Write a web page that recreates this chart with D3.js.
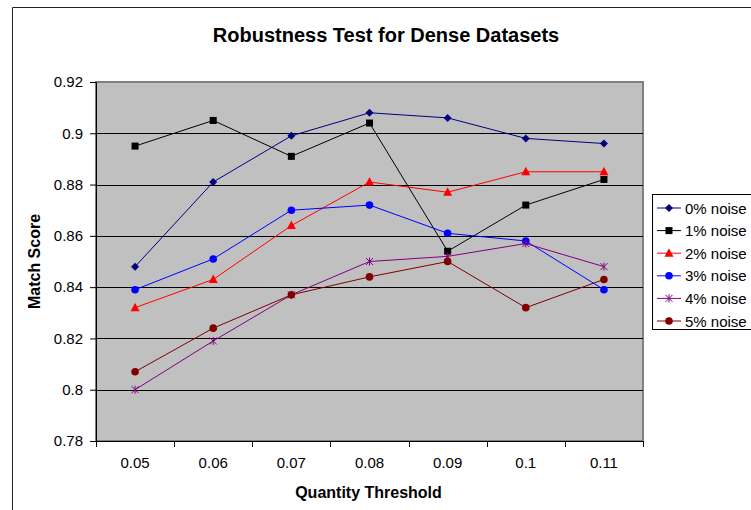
<!DOCTYPE html>
<html>
<head>
<meta charset="utf-8">
<script src="https://cdn.jsdelivr.net/npm/d3@7"></script>
<style>
  body { margin: 0; background: #fff; }
  text { font-family: "Liberation Sans", Arial, sans-serif; }
</style>
</head>
<body>
<div id="chart"></div>
<script>
// data
const thresholds = ["0.05", "0.06", "0.07", "0.08", "0.09", "0.1", "0.11"];
const seriesNames = ["0% noise", "1% noise", "2% noise", "3% noise", "4% noise", "5% noise"];
const noise0 = [0.848, 0.881, 0.899, 0.908, 0.906, 0.898, 0.896];
const noise1 = [0.895, 0.905, 0.891, 0.904, 0.854, 0.872, 0.882];
const noise2 = [0.832, 0.843, 0.864, 0.881, 0.877, 0.885, 0.885];
const noise3 = [0.839, 0.851, 0.870, 0.872, 0.861, 0.858, 0.839];
const noise4 = [0.800, 0.819, 0.837, 0.850, 0.852, 0.857, 0.848];
const noise5 = [0.807, 0.824, 0.837, 0.844, 0.850, 0.832, 0.843];
const yTicks = [0.78, 0.8, 0.82, 0.84, 0.86, 0.88, 0.9, 0.92];

const allSeries = [noise0, noise1, noise2, noise3, noise4, noise5];
const colors = ["#000080", "#000000", "#ff0000", "#0000ff", "#800080", "#800000"];
const shapes = ["diamond", "square", "triangle", "circle", "star", "circle"];

const width = 751, height = 510;
const plot = { left: 96, right: 643, top: 82, bottom: 441 };

const svg = d3.select("#chart").append("svg")
  .attr("width", width)
  .attr("height", height);

// outer chart border (only left/top visible in the crop)
svg.append("path")
  .attr("d", `M12.5,${height} L12.5,7.5 L${width},7.5`)
  .attr("fill", "none")
  .attr("stroke", "#222")
  .attr("stroke-width", 1);

const x = d3.scaleBand().domain(thresholds).range([plot.left, plot.right]);
const y = d3.scaleLinear().domain([0.78, 0.92]).range([plot.bottom, plot.top]);

// plot background
svg.append("rect")
  .attr("x", plot.left).attr("y", plot.top)
  .attr("width", plot.right - plot.left).attr("height", plot.bottom - plot.top)
  .attr("fill", "#c0c0c0")
  .attr("stroke", "#808080")
  .attr("stroke-width", 2);

// gridlines
svg.append("g")
  .selectAll("line")
  .data(yTicks.slice(1, -1))
  .enter()
  .append("line")
  .attr("x1", plot.left).attr("x2", plot.right)
  .attr("y1", d => Math.round(y(d)) + 0.5).attr("y2", d => Math.round(y(d)) + 0.5)
  .attr("stroke", "#000")
  .attr("stroke-width", 1);

// y axis
const yAxis = svg.append("g")
  .attr("transform", `translate(${plot.left},0)`)
  .call(d3.axisLeft(y).tickValues(yTicks).tickSize(6).tickPadding(7).tickFormat(d3.format("")));
yAxis.select(".domain").attr("stroke", "#000");
yAxis.selectAll("text").attr("font-size", 15).attr("fill", "#000")
  .attr("font-family", "'Liberation Sans', Arial, sans-serif");

// x axis: ticks sit at category boundaries
const xAxis = svg.append("g")
  .attr("transform", `translate(0,${plot.bottom})`)
  .call(d3.axisBottom(x).tickSize(0).tickPadding(16));
xAxis.select(".domain").attr("stroke", "#000");
xAxis.selectAll("text").attr("font-size", 15).attr("fill", "#000")
  .attr("font-family", "'Liberation Sans', Arial, sans-serif");
const bounds = thresholds.map(d => x(d)).concat([plot.right]);
svg.append("g")
  .selectAll("line")
  .data(bounds)
  .enter()
  .append("line")
  .attr("x1", d => Math.round(d) + 0.5).attr("x2", d => Math.round(d) + 0.5)
  .attr("y1", plot.bottom).attr("y2", plot.bottom + 6)
  .attr("stroke", "#000");

// titles
svg.append("text")
  .attr("x", 386).attr("y", 42)
  .attr("text-anchor", "middle")
  .attr("font-size", 20).attr("font-weight", "bold")
  .text("Robustness Test for Dense Datasets");

svg.append("text")
  .attr("x", (plot.left + plot.right) / 2 - 1).attr("y", 498)
  .attr("text-anchor", "middle")
  .attr("font-size", 16).attr("font-weight", "bold")
  .text("Quantity Threshold");

svg.append("text")
  .attr("transform", `translate(40,${(plot.top + plot.bottom) / 2}) rotate(-90)`)
  .attr("text-anchor", "middle")
  .attr("font-size", 16).attr("font-weight", "bold")
  .text("Match Score");

// marker drawing helper
function drawMarker(g, shape, color) {
  if (shape === "diamond") {
    g.append("path").attr("d", "M0,-4L4,0L0,4L-4,0Z").attr("fill", color);
  } else if (shape === "square") {
    g.append("rect").attr("x", -3.5).attr("y", -3.5).attr("width", 7).attr("height", 7).attr("fill", color);
  } else if (shape === "triangle") {
    g.append("path").attr("d", "M0,-5L4.5,3.5L-4.5,3.5Z").attr("fill", color);
  } else if (shape === "circle") {
    g.append("circle").attr("r", 3.8).attr("fill", color);
  } else if (shape === "star") {
    g.append("path").attr("d", "M-3.5,-3.5L3.5,3.5M-3.5,3.5L3.5,-3.5M0,-4L0,4")
      .attr("stroke", color).attr("stroke-width", 1).attr("fill", "none");
  }
}

const line = d3.line()
  .x((d, i) => x(thresholds[i]) + x.bandwidth() / 2)
  .y(d => y(d));

allSeries.forEach((vals, s) => {
  svg.append("path")
    .datum(vals)
    .attr("d", line)
    .attr("fill", "none")
    .attr("stroke", colors[s])
    .attr("stroke-width", 1);
});

allSeries.forEach((vals, s) => {
  vals.forEach((v, i) => {
    const g = svg.append("g")
      .attr("transform", `translate(${x(thresholds[i]) + x.bandwidth() / 2},${y(v)})`);
    drawMarker(g, shapes[s], colors[s]);
  });
});

// legend
const legend = svg.append("g").attr("transform", "translate(652,194)");
legend.append("rect")
  .attr("x", 0.5).attr("y", 0.5)
  .attr("width", 110).attr("height", 135)
  .attr("fill", "#fff")
  .attr("stroke", "#000");

seriesNames.forEach((name, s) => {
  const ly = 14 + s * 22.6;
  legend.append("line")
    .attr("x1", 5).attr("x2", 29)
    .attr("y1", ly).attr("y2", ly)
    .attr("stroke", colors[s]);
  drawMarker(legend.append("g").attr("transform", `translate(17,${ly})`), shapes[s], colors[s]);
  legend.append("text")
    .attr("x", 33).attr("y", ly + 5.5)
    .attr("font-size", 15)
    .text(name);
});
</script>
</body>
</html>
